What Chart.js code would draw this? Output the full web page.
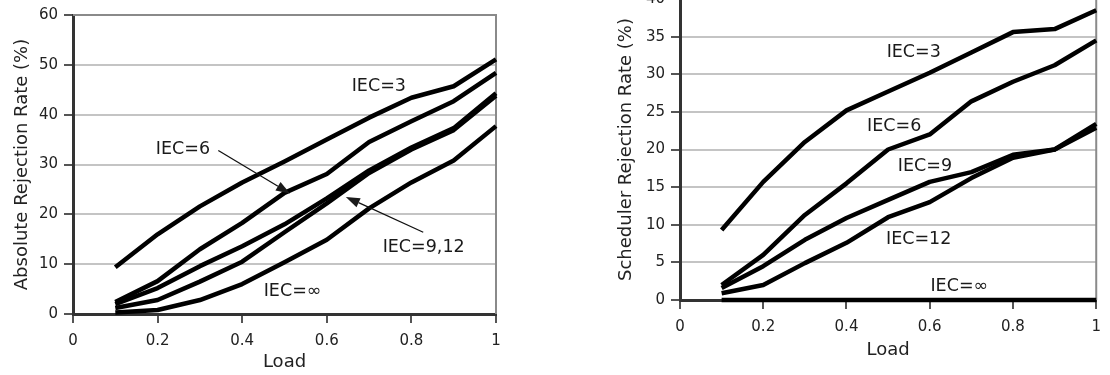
<!DOCTYPE html>
<html>
<head>
<meta charset="utf-8">
<script src="https://cdn.jsdelivr.net/npm/chart.js@4"></script>
<style>
  html, body { margin: 0; padding: 0; background: #fff; overflow: hidden; }
  #absBox { position: absolute; left: 0; top: 0; width: 520px; height: 375px; }
  #schBox { position: absolute; left: 590px; top: -20px; width: 520px; height: 395px; }
</style>
</head>
<body>
<div id="absBox"><canvas id="absChart" width="520" height="375"></canvas></div>
<div id="schBox"><canvas id="schChart" width="520" height="395"></canvas></div>
<script>
// shared x axis
const loads = [0.1, 0.2, 0.3, 0.4, 0.5, 0.6, 0.7, 0.8, 0.9, 1.0];
const xTicks = [0, 0.2, 0.4, 0.6, 0.8, 1];
const xTickLabels = ['0', '0.2', '0.4', '0.6', '0.8', '1'];

// left chart: absolute rejection rate (%)
const absYTicks = [0, 10, 20, 30, 40, 50, 60];
const absIEC3 = [9.4, 16.0, 21.6, 26.4, 30.6, 35.0, 39.4, 43.4, 45.7, 51.1];
const absIEC6 = [2.4, 6.6, 13.0, 18.3, 24.3, 28.1, 34.5, 38.7, 42.7, 48.4];
const absIEC9 = [2.0, 5.2, 9.6, 13.6, 18.0, 23.2, 28.8, 33.4, 37.3, 44.3];
const absIEC12 = [1.2, 2.8, 6.5, 10.5, 16.4, 22.2, 28.3, 33.0, 36.9, 43.8];
const absIECinf = [0.3, 0.8, 2.8, 6.0, 10.4, 14.9, 21.2, 26.4, 30.8, 37.7];

// right chart: scheduler rejection rate (%)
const schYTicks = [0, 5, 10, 15, 20, 25, 30, 35, 40];
const schIEC3 = [9.3, 15.7, 21.0, 25.2, 27.7, 30.2, 32.9, 35.6, 36.0, 38.5];
const schIEC6 = [2.0, 6.0, 11.3, 15.5, 20.0, 22.0, 26.4, 29.0, 31.2, 34.5];
const schIEC9 = [1.6, 4.5, 8.0, 10.9, 13.3, 15.7, 17.0, 19.3, 20.0, 23.4];
const schIEC12 = [0.9, 2.0, 4.9, 7.6, 11.0, 13.0, 16.2, 18.9, 20.0, 22.9];
const schIECinf = [0, 0, 0, 0, 0, 0, 0, 0, 0, 0];

// curve labels, placed in data units [load, rate]
const absNotes = [
  { text: 'IEC=3', at: [0.723, 45.6] },
  { text: 'IEC=6', at: [0.26, 33.1] },
  { text: 'IEC=9,12', at: [0.829, 13.4] },
  { text: 'IEC=\u221e', at: [0.519, 4.45] }
];
const absArrows = [
  { from: [0.3435, 32.8], to: [0.513, 24.2] },
  { from: [0.828, 16.4], to: [0.645, 23.5] }
];
const schNotes = [
  { text: 'IEC=3', at: [0.5616, 32.9] },
  { text: 'IEC=6', at: [0.5147, 23.1] },
  { text: 'IEC=9', at: [0.5884, 17.7] },
  { text: 'IEC=12', at: [0.5735, 8.07] },
  { text: 'IEC=\u221e', at: [0.671, 1.86] }
];

const FONT = 'DejaVu Sans';
const INK = '#222';

function toPoints(ys) {
  return loads.map((x, i) => ({ x: x, y: ys[i] }));
}

function lineSet(ys) {
  return {
    data: toPoints(ys),
    borderColor: '#000',
    borderWidth: 4.5,
    pointRadius: 0,
    tension: 0,
    clip: false,
    borderJoinStyle: 'round'
  };
}

// draws the grey top/right frame, the curve labels and arrows
const notesPlugin = {
  id: 'notes',
  beforeDatasetsDraw(chart) {
    const { ctx, chartArea: a } = chart;
    ctx.save();
    ctx.strokeStyle = '#8a8a8a';
    ctx.lineWidth = 2;
    ctx.beginPath();
    ctx.moveTo(a.left, a.top);
    ctx.lineTo(a.right, a.top);
    ctx.lineTo(a.right, a.bottom);
    ctx.stroke();
    ctx.restore();
  },
  afterDatasetsDraw(chart, args, opts) {
    const { ctx } = chart;
    const xs = chart.scales.x, ys = chart.scales.y;
    const px = p => [xs.getPixelForValue(p[0]), ys.getPixelForValue(p[1])];
    ctx.save();
    ctx.font = '17.5px "' + FONT + '"';
    ctx.fillStyle = '#1a1a1a';
    ctx.textAlign = 'center';
    ctx.textBaseline = 'middle';
    (opts.labels || []).forEach(n => {
      const [x, y] = px(n.at);
      ctx.fillText(n.text, x, y);
    });
    ctx.strokeStyle = '#111';
    ctx.lineWidth = 1.3;
    (opts.arrows || []).forEach(ar => {
      const [x0, y0] = px(ar.from);
      const [x1, y1] = px(ar.to);
      const ang = Math.atan2(y1 - y0, x1 - x0);
      const hl = 14, hw = 5;
      const bx = x1 - hl * Math.cos(ang), by = y1 - hl * Math.sin(ang);
      ctx.beginPath();
      ctx.moveTo(x0, y0);
      ctx.lineTo(bx, by);
      ctx.stroke();
      ctx.beginPath();
      ctx.moveTo(x1, y1);
      ctx.lineTo(bx + hw * Math.sin(ang), by - hw * Math.cos(ang));
      ctx.lineTo(bx - hw * Math.sin(ang), by + hw * Math.cos(ang));
      ctx.closePath();
      ctx.fill();
    });
    ctx.restore();
  }
};

function makeChart(id, cfg) {
  return new Chart(document.getElementById(id), {
    type: 'line',
    data: { datasets: cfg.series.map(lineSet) },
    plugins: [notesPlugin],
    options: {
      responsive: false,
      animation: false,
      layout: { padding: cfg.padding },
      plugins: {
        legend: { display: false },
        tooltip: { enabled: false },
        notes: { labels: cfg.notes, arrows: cfg.arrows || [] }
      },
      scales: {
        x: {
          type: 'linear',
          min: 0,
          max: 1,
          afterBuildTicks: s => { s.ticks = xTicks.map(v => ({ value: v })); },
          afterFit: s => { s.height = cfg.xHeight; },
          ticks: {
            autoSkip: false,
            maxRotation: 0,
            padding: 9,
            color: INK,
            font: { family: FONT, size: 15 },
            callback: (v, i) => xTickLabels[i]
          },
          grid: { drawOnChartArea: false, tickLength: 9, tickColor: '#555', lineWidth: 2 },
          border: { color: '#333', width: 3 },
          title: {
            display: true,
            text: 'Load',
            color: INK,
            font: { family: FONT, size: 18 },
            padding: { top: 0, bottom: cfg.xTitlePad }
          }
        },
        y: {
          type: 'linear',
          min: cfg.yTicks[0],
          max: cfg.yTicks[cfg.yTicks.length - 1],
          afterBuildTicks: s => { s.ticks = cfg.yTicks.map(v => ({ value: v })); },
          afterFit: s => { s.width = cfg.yWidth; },
          ticks: {
            padding: 6,
            color: INK,
            font: { family: FONT, size: 15 }
          },
          grid: { color: '#c4c4c4', lineWidth: 2, tickLength: 9, tickColor: '#555' },
          border: { color: '#333', width: 3 },
          title: {
            display: true,
            text: cfg.yTitle,
            color: INK,
            font: { family: FONT, size: 18 },
            padding: { top: cfg.yTitlePad, bottom: 0 }
          }
        }
      }
    }
  });
}

makeChart('absChart', {
  series: [absIEC3, absIEC6, absIEC9, absIEC12, absIECinf],
  yTicks: absYTicks,
  yTitle: 'Absolute Rejection Rate (%)',
  notes: absNotes,
  arrows: absArrows,
  padding: { left: 0, top: 13, right: 24, bottom: 0 },
  yWidth: 73,
  xHeight: 61,
  yTitlePad: 12,
  xTitlePad: 2
});

makeChart('schChart', {
  series: [schIEC3, schIEC6, schIEC9, schIEC12, schIECinf],
  yTicks: schYTicks,
  yTitle: 'Scheduler Rejection Rate (%)',
  notes: schNotes,
  padding: { left: 0, top: 19, right: 8, bottom: 0 },
  yWidth: 90,
  xHeight: 75,
  yTitlePad: 26,
  xTitlePad: 14
});
</script>
</body>
</html>
